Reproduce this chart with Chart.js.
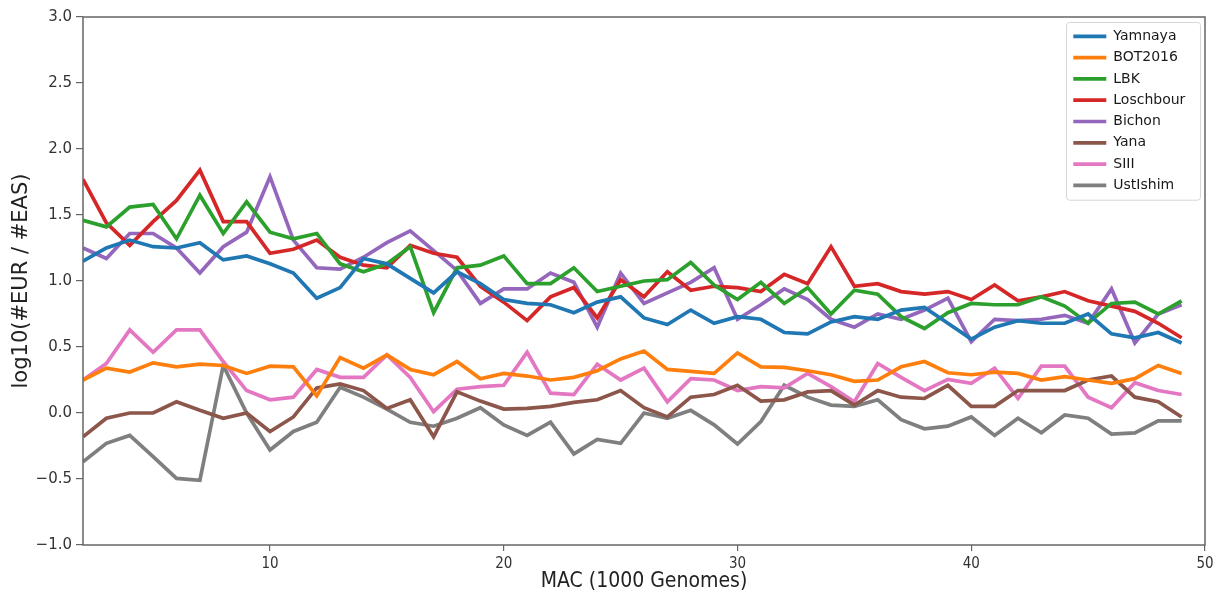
<!DOCTYPE html>
<html>
<head>
<meta charset="utf-8">
<script src="https://cdn.jsdelivr.net/npm/chart.js"></script>
<style>
  body { margin: 0; background: #fff; }
  #chart-container { width: 1220px; height: 597px; }
</style>
</head>
<body>
<div id="chart-container"><canvas id="chart-canvas" width="1220" height="597"></canvas></div>
<script>
// minor allele count bins
const mac = [2, 3, 4, 5, 6, 7, 8, 9, 10, 11, 12, 13, 14, 15, 16, 17, 18, 19, 20, 21, 22, 23, 24, 25,
             26, 27, 28, 29, 30, 31, 32, 33, 34, 35, 36, 37, 38, 39, 40, 41, 42, 43, 44, 45, 46, 47, 48, 49];

const yamnaya = [1.15, 1.25, 1.31, 1.26, 1.25, 1.29, 1.16, 1.19, 1.13, 1.06, 0.87, 0.95, 1.17, 1.13, 1.02, 0.91,
                 1.07, 0.98, 0.86, 0.83, 0.82, 0.76, 0.84, 0.88, 0.72, 0.67, 0.78, 0.68, 0.73, 0.71, 0.61, 0.60,
                 0.69, 0.73, 0.71, 0.78, 0.80, 0.68, 0.56, 0.65, 0.70, 0.68, 0.68, 0.75, 0.60, 0.57, 0.61, 0.53];
const bot2016 = [0.25, 0.34, 0.31, 0.38, 0.35, 0.37, 0.36, 0.30, 0.355, 0.35, 0.13, 0.42, 0.34, 0.44, 0.33, 0.29,
                 0.39, 0.26, 0.30, 0.28, 0.25, 0.27, 0.32, 0.41, 0.47, 0.33, 0.315, 0.30, 0.455, 0.35, 0.345, 0.32,
                 0.29, 0.24, 0.25, 0.35, 0.39, 0.305, 0.29, 0.31, 0.30, 0.25, 0.275, 0.25, 0.225, 0.26, 0.36, 0.30];
const lbk = [1.46, 1.41, 1.56, 1.58, 1.32, 1.65, 1.36, 1.60, 1.37, 1.32, 1.36, 1.13, 1.07, 1.13, 1.26, 0.76,
             1.10, 1.12, 1.19, 0.98, 0.98, 1.10, 0.92, 0.96, 1.00, 1.01, 1.14, 0.97, 0.86, 0.99, 0.83, 0.95,
             0.75, 0.93, 0.90, 0.73, 0.64, 0.76, 0.83, 0.82, 0.82, 0.88, 0.81, 0.68, 0.83, 0.84, 0.75, 0.85];
const loschbour = [1.77, 1.44, 1.27, 1.45, 1.61, 1.84, 1.45, 1.45, 1.21, 1.24, 1.31, 1.18, 1.12, 1.10, 1.27, 1.21,
                   1.18, 0.96, 0.84, 0.70, 0.88, 0.95, 0.72, 1.01, 0.88, 1.07, 0.93, 0.96, 0.95, 0.92, 1.05, 0.98,
                   1.26, 0.96, 0.98, 0.92, 0.90, 0.92, 0.86, 0.97, 0.85, 0.88, 0.92, 0.85, 0.81, 0.77, 0.68, 0.57];
const bichon = [1.25, 1.17, 1.36, 1.36, 1.25, 1.06, 1.26, 1.37, 1.79, 1.31, 1.10, 1.09, 1.18, 1.29, 1.38, 1.23,
                1.08, 0.83, 0.94, 0.94, 1.06, 0.99, 0.65, 1.06, 0.83, 0.91, 0.99, 1.10, 0.71, 0.82, 0.94, 0.86,
                0.71, 0.65, 0.75, 0.71, 0.78, 0.87, 0.54, 0.71, 0.70, 0.71, 0.74, 0.68, 0.94, 0.53, 0.75, 0.82];
const yana = [-0.18, -0.04, 0.00, 0.00, 0.085, 0.02, -0.04, 0.00, -0.14, -0.03, 0.19, 0.22, 0.17, 0.035, 0.10, -0.18,
              0.16, 0.09, 0.03, 0.035, 0.05, 0.08, 0.10, 0.17, 0.04, -0.03, 0.12, 0.14, 0.21, 0.09, 0.10, 0.16,
              0.17, 0.06, 0.17, 0.12, 0.11, 0.21, 0.05, 0.05, 0.17, 0.17, 0.17, 0.25, 0.28, 0.12, 0.085, -0.03];
const siii = [0.25, 0.375, 0.63, 0.46, 0.63, 0.63, 0.39, 0.17, 0.10, 0.12, 0.33, 0.27, 0.27, 0.44, 0.27, 0.01,
              0.18, 0.20, 0.21, 0.46, 0.15, 0.14, 0.37, 0.25, 0.34, 0.085, 0.26, 0.25, 0.17, 0.20, 0.19, 0.30,
              0.20, 0.085, 0.375, 0.27, 0.17, 0.255, 0.225, 0.34, 0.11, 0.355, 0.355, 0.12, 0.04, 0.23, 0.17, 0.14];
const ustIshim = [-0.37, -0.23, -0.17, -0.33, -0.495, -0.51, 0.36, 0.00, -0.28, -0.14, -0.07, 0.195, 0.12, 0.03, -0.07, -0.10,
                  -0.04, 0.04, -0.09, -0.17, -0.07, -0.31, -0.20, -0.23, 0.00, -0.04, 0.02, -0.09, -0.235, -0.065, 0.21, 0.12,
                  0.06, 0.05, 0.10, -0.05, -0.12, -0.10, -0.03, -0.17, -0.04, -0.15, -0.015, -0.04, -0.16, -0.15, -0.06, -0.06];

const xTicks = [10, 20, 30, 40, 50];
const yTicks = [-1.0, -0.5, 0.0, 0.5, 1.0, 1.5, 2.0, 2.5, 3.0];

const series = [
  ["Yamnaya", yamnaya, "#1f77b4"],
  ["BOT2016", bot2016, "#ff7f0e"],
  ["LBK", lbk, "#2ca02c"],
  ["Loschbour", loschbour, "#d62728"],
  ["Bichon", bichon, "#9467bd"],
  ["Yana", yana, "#8c564b"],
  ["SIII", siii, "#e377c2"],
  ["UstIshim", ustIshim, "#7f7f7f"]
];

const FONT = "'DejaVu Sans', 'Liberation Sans', sans-serif";
const NARROW = "'DejaVu Sans Condensed', " + FONT;
const AXIS_COLOR = "#666";

// legend sits in the upper right corner of the plot, with a matplotlib-like frame
const legendCorner = {
  id: "legendCorner",
  afterLayout(chart) {
    const lg = chart.legend, a = chart.chartArea;
    const w = lg.width, h = lg.height;
    lg.left = a.right - 139;
    lg.right = lg.left + w;
    lg.top = a.top + 5;
    lg.bottom = lg.top + h;
  },
  beforeDraw(chart) {
    const lg = chart.legend;
    const pad = lg.options.labels.padding;
    const rowH = lg.options.labels.font.size + pad;
    const h = pad + chart.data.datasets.length * rowH;
    const ctx = chart.ctx;
    ctx.save();
    ctx.beginPath();
    ctx.roundRect(lg.left + 0.5, lg.top + 0.5, 134, h, 3);
    ctx.fillStyle = "rgba(255,255,255,0.8)";
    ctx.fill();
    ctx.strokeStyle = "#d6d6d6";
    ctx.lineWidth = 1;
    ctx.stroke();
    ctx.restore();
  }
};

// full box around the plot area
const frame = {
  id: "frame",
  afterDatasetsDraw(chart) {
    const a = chart.chartArea, ctx = chart.ctx;
    ctx.save();
    ctx.strokeStyle = AXIS_COLOR;
    ctx.lineWidth = 1.5;
    ctx.strokeRect(a.left, a.top, a.right - a.left, a.bottom - a.top);
    ctx.restore();
  }
};

const ctx = document.getElementById("chart-canvas");
new Chart(ctx, {
  type: "line",
  data: {
    datasets: series.map(([label, values, color]) => ({
      label: label,
      data: values.map((v, i) => ({ x: mac[i], y: v })),
      borderColor: color,
      backgroundColor: color,
      borderWidth: 3.7,
      pointRadius: 0,
      tension: 0,
      fill: false
    }))
  },
  options: {
    responsive: false,
    animation: false,
    layout: { padding: { top: 17, right: 15, left: 0, bottom: 0 } },
    plugins: {
      tooltip: { enabled: false },
      legend: {
        position: "chartArea",
        align: "start",
        labels: {
          usePointStyle: true,
          pointStyle: "line",
          pointStyleWidth: 33,
          boxHeight: 14,
          padding: 7.3,
          color: "#1a1a1a",
          font: { family: FONT, size: 14 }
        }
      }
    },
    scales: {
      x: {
        type: "linear",
        min: 2,
        max: 50,
        afterFit: (scale) => { scale.height = 52; },
        afterBuildTicks: (scale) => { scale.ticks = xTicks.map(v => ({ value: v })); },
        border: { display: false },
        grid: { drawOnChartArea: false, drawTicks: true, tickLength: 6, color: AXIS_COLOR, lineWidth: 1.2 },
        ticks: {
          padding: 4,
          color: "#333",
          maxRotation: 0,
          font: { family: NARROW, size: 15 },
          callback: (v) => String(v)
        },
        title: {
          display: true,
          text: "MAC (1000 Genomes)",
          color: "#222",
          font: { family: NARROW, size: 21 },
          padding: { top: 0, bottom: 3 }
        }
      },
      y: {
        min: -1,
        max: 3,
        afterFit: (scale) => { scale.width = 83; },
        afterBuildTicks: (scale) => { scale.ticks = yTicks.map(v => ({ value: v })); },
        border: { display: false },
        grid: { drawOnChartArea: false, drawTicks: true, tickLength: 7, color: AXIS_COLOR, lineWidth: 1.2 },
        ticks: {
          padding: 4,
          color: "#333",
          font: { family: FONT, size: 15 },
          callback: (v) => (v < 0 ? "\u2212" : "") + Math.abs(v).toFixed(1)
        },
        title: {
          display: true,
          text: "log10(#EUR / #EAS)",
          color: "#222",
          font: { family: FONT, size: 21 },
          padding: { top: 9, bottom: 0 }
        }
      }
    }
  },
  plugins: [legendCorner, frame]
});
</script>
</body>
</html>
